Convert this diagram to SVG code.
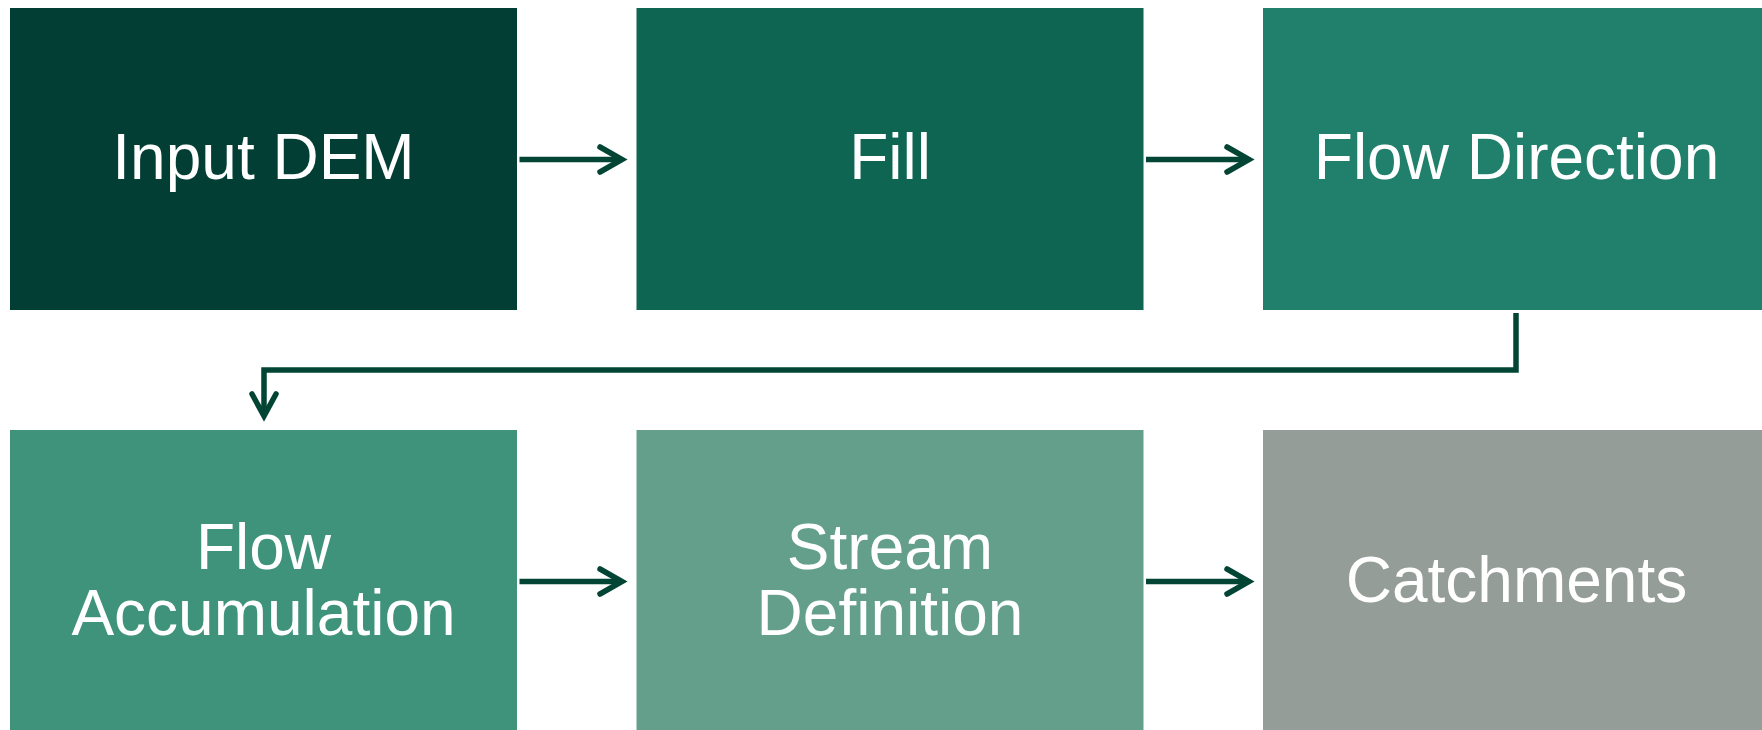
<svg xmlns="http://www.w3.org/2000/svg" width="1762" height="730" viewBox="0 0 1762 730">
<style>
.lbl{font-family:"Liberation Sans",Arial,sans-serif;font-size:64px;fill:#ffffff;text-anchor:middle}
.con{fill:none;stroke:#034535;stroke-width:5.5}
.head{fill:none;stroke:#034535;stroke-width:5.5;stroke-linecap:round;stroke-linejoin:miter}
</style>
<rect width="1762" height="730" fill="#ffffff"/>
<g id="node-input-dem"><rect x="10" y="8" width="507" height="302" fill="#033e34"/><text class="lbl" x="263.5" y="179">Input DEM</text></g>
<g id="node-fill"><rect x="636.5" y="8" width="507" height="302" fill="#0e6552"/><text class="lbl" x="890" y="179">Fill</text></g>
<g id="node-flow-direction"><rect x="1263" y="8" width="507" height="302" fill="#21806b"/><text class="lbl" x="1516.5" y="179">Flow Direction</text></g>
<g id="node-flow-accumulation"><rect x="10" y="430" width="507" height="310" fill="#40937b"/><text class="lbl" x="263.5" y="569">Flow</text><text class="lbl" x="263.5" y="635">Accumulation</text></g>
<g id="node-stream-definition"><rect x="636.5" y="430" width="507" height="310" fill="#649f8b"/><text class="lbl" x="890" y="569">Stream</text><text class="lbl" x="890" y="635">Definition</text></g>
<g id="node-catchments"><rect x="1263" y="430" width="507" height="310" fill="#959d99"/><text class="lbl" x="1516.5" y="602">Catchments</text></g>
<g id="connectors">
<path class="con" d="M519.5,159.5 H620"/><path class="head" d="M600,147 L622,159.5 L600,172"/>
<path class="con" d="M1146,159.5 H1247"/><path class="head" d="M1227,147 L1249,159.5 L1227,172"/>
<path class="con" d="M1516,313 V370 H264 V414"/><path class="head" d="M252,394 L264,416 L276,394"/>
<path class="con" d="M519.5,581.5 H620"/><path class="head" d="M600,569 L622,581.5 L600,594"/>
<path class="con" d="M1146,581.5 H1247"/><path class="head" d="M1227,569 L1249,581.5 L1227,594"/>
</g>
</svg>
